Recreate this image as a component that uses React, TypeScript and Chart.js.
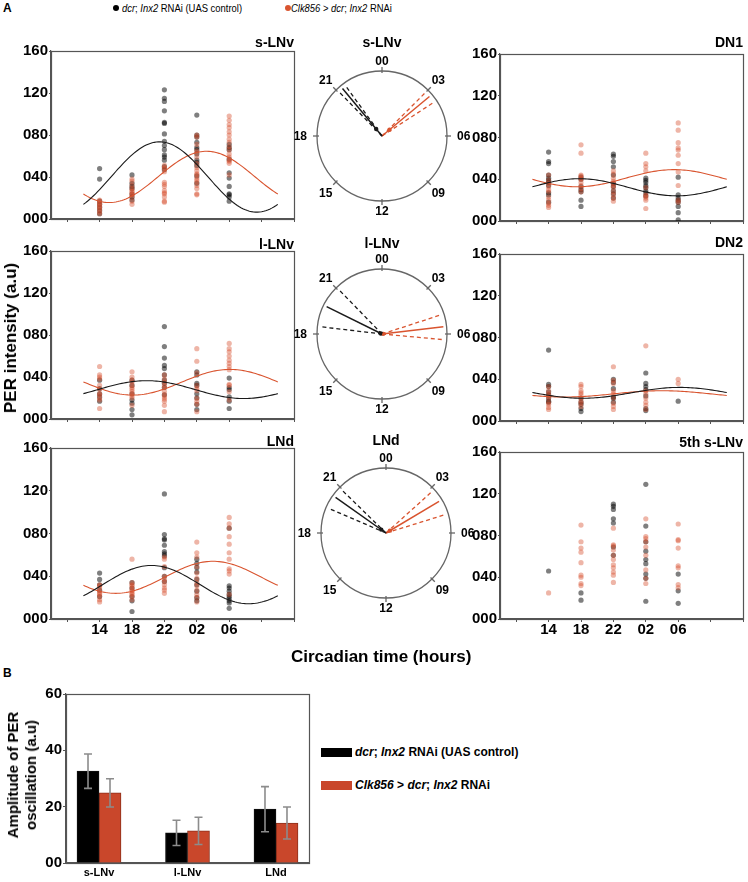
import React, { useEffect, useRef } from 'react';
import { Chart, registerables } from 'chart.js';
Chart.register(...registerables);

const FONT = '"Liberation Sans", Arial, Helvetica, sans-serif';
const BLACK_PT = 'rgba(0,0,0,0.5)';
const RED_PT = 'rgba(214,78,46,0.42)';
const BLACK_LINE = '#1a1a1a';
const RED_LINE = '#d9542f';
const FRAME = '#555';

// ---------- shared axes ----------
const timepoints = [14, 18, 22, 26, 30]; // CT14, 18, 22, 02(+24), 06(+24)
const timeTicks = [10, 14, 18, 22, 26, 30, 34, 38];
const timeTickLabels = ['', '14', '18', '22', '02', '06', '', ''];
const intensityTicks = [0, 40, 80, 120, 160];

// ---------- PER intensity per timepoint (14, 18, 22, 02, 06) ----------
const sLNvCtrl = [
  [48, 38, 17, 14, 11, 8, 5],
  [42, 34, 31, 29, 24, 21, 18],
  [123, 115, 112, 103, 92, 91, 81, 74, 70, 66, 61, 59, 56, 50, 47],
  [99, 80, 78, 73, 68, 66, 62, 56, 54, 51, 41, 34],
  [71, 68, 66, 57, 44, 39, 31, 24, 23, 21, 17],
];
const sLNvClk = [
  [18, 17, 15, 14, 12, 11, 9, 7, 5],
  [38, 36, 32, 29, 27, 26, 24, 23, 21, 17, 14],
  [51, 49, 48, 45, 35, 33, 31, 27, 25, 24, 21, 17, 16],
  [80, 78, 71, 65, 63, 59, 53, 49, 46, 43, 42, 39, 37, 35, 32, 29, 24, 23],
  [98, 94, 90, 87, 83, 80, 76, 73, 69, 66, 62, 59, 56, 55, 53, 42],
];
const dn1Ctrl = [
  [66, 57, 55, 44, 41, 39, 37, 34, 27, 25, 18],
  [42, 40, 33, 30, 28, 20, 14],
  [64, 62, 57, 52, 44, 36, 33, 29, 26, 22],
  [41, 39, 37, 34, 32, 29, 27, 24],
  [42, 25, 22, 20, 18, 14, 8, 1],
];
const dn1Clk = [
  [44, 39, 36, 33, 30, 28, 23, 20, 17, 15, 13],
  [73, 65, 44, 43, 41, 40, 37, 34, 31, 28],
  [48, 45, 41, 38, 36, 34, 32, 28, 25, 22, 19],
  [65, 55, 52, 48, 32, 25, 24, 22, 20, 12],
  [94, 87, 75, 70, 68, 63, 55, 47, 34, 20, 18],
];
const lLNvCtrl = [
  [37, 29, 24, 21, 17],
  [37, 32, 24, 18, 15, 9, 4],
  [88, 69, 58, 51, 48, 42, 37, 34, 30, 23],
  [45, 42, 34, 32, 24, 20, 14, 9],
  [39, 30, 28, 21, 17, 10],
];
const lLNvClk = [
  [50, 42, 40, 38, 32, 28, 24, 23, 20, 18, 10],
  [45, 40, 37, 35, 32, 30, 28, 26, 24, 22, 20, 13],
  [42, 38, 35, 32, 30, 26, 23, 21, 19, 17, 13, 7],
  [67, 55, 44, 32, 29, 27, 20, 17, 14, 7],
  [72, 67, 64, 60, 56, 53, 50, 47, 33, 32, 26, 18],
];
const dn2Ctrl = [
  [68, 35, 33, 28, 25, 22, 19, 18],
  [22, 18, 16, 12, 9],
  [40, 37, 31, 23, 22, 18],
  [46, 36, 33, 30, 24, 12, 10],
  [19],
];
const dn2Clk = [
  [33, 29, 26, 24, 22, 18, 16, 13, 11],
  [35, 33, 29, 27, 25, 22, 19, 17, 14],
  [52, 39, 36, 29, 26, 22, 17, 14, 11],
  [72, 29, 26, 22, 18, 15, 11],
  [40, 36],
];
const lndCtrl = [
  [43, 37, 32, 27, 21],
  [34, 29, 21, 17, 7],
  [117, 79, 75, 74, 69, 63, 61, 59, 48, 40, 35],
  [56, 52, 48, 44, 37, 32, 26, 20, 17],
  [85, 31, 29, 26, 23, 21, 19, 17, 15, 10],
];
const lndClk = [
  [32, 31, 29, 26, 24, 23, 21, 18, 16],
  [56, 34, 32, 31, 29, 27, 26, 24, 23, 21, 18],
  [58, 56, 49, 40, 37, 35, 32, 29, 27, 24],
  [72, 62, 58, 49, 43, 38, 34, 31, 27, 23, 20, 16],
  [95, 89, 85, 77, 70, 62, 56, 47, 45, 42, 23],
];
const fifthCtrl = [
  [46],
  [25, 18],
  [110, 108, 105, 96, 92, 69, 61],
  [129, 89, 74, 65, 57, 53, 43, 39, 17],
  [43, 27, 15],
];
const fifthClk = [
  [25],
  [90, 74, 68, 64, 54, 42, 40, 34, 32],
  [87, 71, 70, 66, 61, 57, 52, 49, 45, 42, 35],
  [96, 79, 77, 74, 69, 61, 47, 39, 34],
  [91, 76, 75, 68, 51, 49, 33, 30],
];

// ---------- cosinor fits: [mesor, amplitude, peak (CT hours)] ----------
const sLNvCtrlFit = [40, 33.5, 21.4];
const sLNvClkFit = [40.1, 24.4, 27.2];
const dn1CtrlFit = [32.3, 8.2, 17.8];
const dn1ClkFit = [41, 8.2, 29.5];
const lLNvCtrlFit = [28, 8.5, 19.8];
const lLNvClkFit = [35, 12.2, 30.1];
const dn2CtrlFit = [27, 5.2, 30.2];
const dn2ClkFit = [26, 3, 28];
const lndCtrlFit = [32.2, 17.9, 20.4];
const lndClkFit = [39, 15, 28];
const fitRange = [12, 36];

// ---------- phase clocks: [phase, lower CI, upper CI] in hours ----------
const clockHours = [0, 3, 6, 9, 12, 15, 18, 21];
const clockLabels = ['00', '03', '06', '09', '12', '15', '18', '21'];
const sLNvPhaseCtrl = [21.35, 21.05, 21.6];
const sLNvPhaseClk = [3.35, 3.0, 3.8];
const lLNvPhaseCtrl = [19.75, 18.45, 21.05];
const lLNvPhaseClk = [5.55, 4.8, 6.35];
const lndPhaseCtrl = [20.35, 19.55, 20.95];
const lndPhaseClk = [3.95, 3.2, 4.85];
const sLNvVector = [0.14, 0.15];
const lLNvVector = [0.02, 0.02];
const lndVector = [0.09, 0.07];

// ---------- panel B ----------
const barCategories = ['s-LNv', 'l-LNv', 'LNd'];
const ampCtrl = [32.6, 10.7, 19.1];
const ampCtrlErr = [6.1, 4.5, 8.0];
const ampClk = [24.9, 11.4, 14.2];
const ampClkErr = [5.0, 4.85, 5.7];
const ampTicks = [0, 20, 40, 60];

// ---------- helpers ----------
const toPoints = (groups: number[][]) =>
  groups.flatMap((vals, i) => vals.map((v) => ({ x: timepoints[i], y: v })));

const fitCurve = (fit: number[]) => {
  const [m, a, p] = fit;
  const pts: { x: number; y: number }[] = [];
  for (let h = fitRange[0]; h <= fitRange[1] + 1e-9; h += 0.25) {
    pts.push({ x: h, y: m + a * Math.cos(((h - p) / 24) * 2 * Math.PI) });
  }
  return pts;
};

const framePlugin = {
  id: 'frame',
  afterDraw(chart: any) {
    const { ctx, chartArea: a } = chart;
    ctx.save();
    ctx.strokeStyle = FRAME;
    ctx.lineWidth = 1.2;
    ctx.strokeRect(Math.round(a.left) + 0.5, Math.round(a.top) + 0.5, Math.round(a.right - a.left), Math.round(a.bottom - a.top));
    ctx.restore();
  },
};

function useChart(makeConfig: () => any) {
  const ref = useRef<HTMLCanvasElement | null>(null);
  useEffect(() => {
    if (!ref.current) return;
    const chart = new Chart(ref.current, makeConfig());
    return () => chart.destroy();
  }, []);
  return ref;
}

// ---------- scatter panel ----------
const columns: any = {
  L: { left: 0, width: 300, yw: 51, pr: 6 },
  R: { left: 460, width: 288, yw: 40, pr: 5 },
};

function ScatterPanel(props: any) {
  const { col, top, bottom, ctrl, clk, ctrlFit, clkFit, showX } = props;
  const c = columns[col];
  const pt = 14;
  const xh = showX ? 26 : 8;
  const canvasTop = top - pt;
  const height = bottom - canvasTop + xh;
  const ref = useChart(() => {
    const datasets: any[] = [];
    if (ctrlFit) {
      datasets.push({ data: fitCurve(ctrlFit), showLine: true, pointRadius: 0, borderColor: BLACK_LINE, borderWidth: 1.1, order: 0 });
    }
    if (clkFit) {
      datasets.push({ data: fitCurve(clkFit), showLine: true, pointRadius: 0, borderColor: RED_LINE, borderWidth: 1.1, order: 0 });
    }
    datasets.push({ data: toPoints(clk), backgroundColor: RED_PT, borderWidth: 0, pointRadius: 2.6, order: 1 });
    datasets.push({ data: toPoints(ctrl), backgroundColor: BLACK_PT, borderWidth: 0, pointRadius: 2.6, order: 2 });
    return {
      type: 'scatter',
      data: { datasets },
      options: {
        animation: false,
        responsive: false,
        events: [],
        layout: { padding: { left: 0, top: pt, right: c.pr, bottom: 0 } },
        plugins: { legend: { display: false }, tooltip: { enabled: false } },
        scales: {
          x: {
            type: 'linear',
            min: 8,
            max: 38,
            afterBuildTicks: (s: any) => { s.ticks = timeTicks.map((v) => ({ value: v })); },
            afterFit: (s: any) => { s.height = xh; },
            ticks: {
              display: !!showX,
              autoSkip: false,
              maxRotation: 0,
              padding: -1,
              color: '#000',
              font: { family: FONT, size: 15, weight: 'bold' },
              callback: (_v: any, i: number) => timeTickLabels[i],
            },
            grid: { drawOnChartArea: false, tickLength: 3, color: FRAME },
            border: { color: FRAME, width: 1.2 },
          },
          y: {
            min: 0,
            max: 160,
            afterBuildTicks: (s: any) => { s.ticks = intensityTicks.map((v) => ({ value: v })); },
            afterFit: (s: any) => { s.width = c.yw; },
            ticks: {
              padding: 1,
              color: '#000',
              font: { family: FONT, size: 15, weight: 'bold' },
              callback: (v: any) => String(v).padStart(3, '0'),
            },
            grid: { drawOnChartArea: false, tickLength: 2, color: FRAME },
            border: { color: FRAME, width: 1.2 },
          },
        },
      },
      plugins: [framePlugin],
    };
  });
  return (
    <canvas
      ref={ref}
      width={c.width}
      height={height}
      style={{ position: 'absolute', left: c.left, top: canvasTop, width: c.width, height }}
    />
  );
}

// ---------- phase clock ----------
const clockFacePlugin = {
  id: 'clockFace',
  beforeDatasetsDraw(chart: any) {
    const { ctx, scales } = chart;
    const x = scales.x, y = scales.y;
    const cx = x.getPixelForValue(0);
    const cy = y.getPixelForValue(0);
    const r = x.getPixelForValue(1) - cx;
    const ry = cy - y.getPixelForValue(1);
    ctx.save();
    ctx.strokeStyle = '#666';
    ctx.lineWidth = 1.3;
    ctx.beginPath();
    ctx.ellipse(cx, cy, r, ry, 0, 0, Math.PI * 2);
    ctx.stroke();
    ctx.font = `bold 12px ${FONT}`;
    ctx.fillStyle = '#000';
    ctx.textAlign = 'center';
    ctx.textBaseline = 'middle';
    clockHours.forEach((h, i) => {
      const a = (h / 24) * 2 * Math.PI;
      const sx = Math.sin(a), sy = -Math.cos(a);
      ctx.beginPath();
      ctx.moveTo(cx + sx * (r - 2), cy + sy * (ry - 2));
      ctx.lineTo(cx + sx * (r + 4), cy + sy * (ry + 4));
      ctx.stroke();
      const label = clockLabels[i];
      const tw = ctx.measureText(label).width;
      const d = 10 + Math.abs(sx) * (tw / 2);
      ctx.fillText(label, cx + sx * (r + d), cy + sy * (ry + d) + 1);
    });
    ctx.restore();
  },
};

const LINE_LEN = 0.95;
const rayData = (phase: number, len: number) => {
  const a = (phase / 24) * 2 * Math.PI;
  return [{ x: 0, y: 0 }, { x: len * Math.sin(a), y: len * Math.cos(a) }];
};

function PhaseClock(props: any) {
  const { cx, cy, ctrl, clk, vec } = props;
  const R = 65, m = 30;
  const size = 2 * (R + m);
  const ref = useChart(() => {
    const ray = (phase: number, color: string, dashed: boolean) => ({
      data: rayData(phase, LINE_LEN),
      showLine: true,
      pointRadius: 0,
      borderColor: color,
      borderWidth: dashed ? 1.3 : 1.5,
      borderDash: dashed ? [4, 3] : [],
    });
    const dot = (phase: number, len: number, color: string) => ({
      data: [rayData(phase, len)[1]],
      pointRadius: 2.2,
      backgroundColor: color,
      borderWidth: 0,
    });
    return {
      type: 'scatter',
      data: {
        datasets: [
          ray(ctrl[0], BLACK_LINE, false),
          ray(ctrl[1], BLACK_LINE, true),
          ray(ctrl[2], BLACK_LINE, true),
          ray(clk[0], RED_LINE, false),
          ray(clk[1], RED_LINE, true),
          ray(clk[2], RED_LINE, true),
          dot(ctrl[0], vec[0], BLACK_LINE),
          dot(clk[0], vec[1], RED_LINE),
        ],
      },
      options: {
        animation: false,
        responsive: false,
        events: [],
        layout: { padding: m },
        plugins: { legend: { display: false }, tooltip: { enabled: false } },
        scales: {
          x: { type: 'linear', min: -1, max: 1, display: false },
          y: { type: 'linear', min: -1, max: 1, display: false },
        },
      },
      plugins: [clockFacePlugin],
    };
  });
  return (
    <canvas
      ref={ref}
      width={size}
      height={size}
      style={{ position: 'absolute', left: cx - R - m, top: cy - R - m, width: size, height: size }}
    />
  );
}

// ---------- panel B bar chart ----------
const errorBarPlugin = {
  id: 'errorBars',
  afterDatasetsDraw(chart: any) {
    const { ctx } = chart;
    const errs = [ampCtrlErr, ampClkErr];
    const vals = [ampCtrl, ampClk];
    const y = chart.scales.y;
    ctx.save();
    ctx.strokeStyle = '#8c8c8c';
    ctx.lineWidth = 1.6;
    chart.data.datasets.forEach((_d: any, di: number) => {
      const meta = chart.getDatasetMeta(di);
      meta.data.forEach((bar: any, i: number) => {
        const hi = y.getPixelForValue(vals[di][i] + errs[di][i]);
        const lo = y.getPixelForValue(vals[di][i] - errs[di][i]);
        const x = bar.x;
        ctx.beginPath();
        ctx.moveTo(x, hi);
        ctx.lineTo(x, lo);
        ctx.moveTo(x - 4, hi);
        ctx.lineTo(x + 4, hi);
        ctx.moveTo(x - 4, lo);
        ctx.lineTo(x + 4, lo);
        ctx.stroke();
      });
    });
    ctx.restore();
  },
};

function AmplitudeChart() {
  const left = 0, top = 680, width = 320, height = 202;
  const ref = useChart(() => ({
    type: 'bar',
    data: {
      datasets: [
        {
          data: ampCtrl.map((v, i) => ({ x: i, y: v })),
          backgroundColor: '#000',
          borderColor: '#111',
          borderWidth: 1,
          barThickness: 22,
        },
        {
          data: ampClk.map((v, i) => ({ x: i, y: v })),
          backgroundColor: '#c9472b',
          borderColor: '#8d2f1b',
          borderWidth: 1,
          barThickness: 22,
        },
      ],
    },
    options: {
      animation: false,
      responsive: false,
      events: [],
      layout: { padding: { left: 0, top: 14, right: 11, bottom: 0 } },
      plugins: { legend: { display: false }, tooltip: { enabled: false } },
      scales: {
        x: {
          type: 'linear',
          offset: false,
          min: -0.373,
          max: 2.373,
          afterBuildTicks: (s: any) => { s.ticks = barCategories.map((_c, i) => ({ value: i })); },
          afterFit: (s: any) => { s.height = 19; },
          ticks: {
            autoSkip: false,
            maxRotation: 0,
            padding: 3,
            color: '#000',
            font: { family: FONT, size: 11, weight: 'bold' },
            callback: (_v: any, i: number) => barCategories[i],
          },
          grid: { offset: false, drawOnChartArea: false, drawTicks: false },
          border: { color: FRAME, width: 1.2 },
        },
        y: {
          min: 0,
          max: 60,
          afterBuildTicks: (s: any) => { s.ticks = ampTicks.map((v) => ({ value: v })); },
          afterFit: (s: any) => { s.width = 66; },
          ticks: {
            padding: 1,
            color: '#000',
            font: { family: FONT, size: 15, weight: 'bold' },
            callback: (v: any) => (v === 0 ? '00' : String(v)),
          },
          grid: { drawOnChartArea: false, tickLength: 3, color: FRAME },
          border: { color: FRAME, width: 1.2 },
        },
      },
    },
    plugins: [errorBarPlugin, framePlugin],
  }));
  return (
    <canvas
      ref={ref}
      width={width}
      height={height}
      style={{ position: 'absolute', left, top, width, height }}
    />
  );
}

// ---------- text helpers ----------
const abs = (extra: any) => ({ position: 'absolute', whiteSpace: 'nowrap', ...extra });

function RightTitle({ right, baseline, children }: any) {
  return (
    <div style={abs({ left: right - 120, width: 120, textAlign: 'right', top: baseline - 11.9, fontSize: 14, lineHeight: '14px', fontWeight: 'bold' })}>
      {children}
    </div>
  );
}
function CenterTitle({ cx, baseline, children }: any) {
  return (
    <div style={abs({ left: cx - 60, width: 120, textAlign: 'center', top: baseline - 11.9, fontSize: 14, lineHeight: '14px', fontWeight: 'bold' })}>
      {children}
    </div>
  );
}

export default function App() {
  return (
    <div
      style={{
        position: 'absolute',
        left: 0,
        top: 0,
        width: 748,
        height: 882,
        background: '#fff',
        fontFamily: FONT,
        color: '#000',
        overflow: 'hidden',
      }}
    >
      {/* Panel labels */}
      <div style={abs({ left: 3, top: 1, fontSize: 12, fontWeight: 'bold', lineHeight: '14px' })}>A</div>
      <div style={abs({ left: 3, top: 666, fontSize: 12, fontWeight: 'bold', lineHeight: '14px' })}>B</div>

      {/* Top legend */}
      <div style={abs({ left: 113, top: 5, width: 6, height: 6, borderRadius: '50%', background: '#000' })} />
      <div style={abs({ left: 122, top: 1, fontSize: 11.5, lineHeight: '14px', transform: 'scaleX(0.82)', transformOrigin: 'left center' })}>
        <i>dcr</i>; <i>Inx2</i> RNAi (UAS control)
      </div>
      <div style={abs({ left: 285, top: 5, width: 6, height: 6, borderRadius: '50%', background: RED_LINE })} />
      <div style={abs({ left: 291, top: 1, fontSize: 11.5, lineHeight: '14px', transform: 'scaleX(0.82)', transformOrigin: 'left center' })}>
        <i>Clk856</i> &gt; <i>dcr</i>; <i>Inx2</i> RNAi
      </div>

      {/* Panel A scatter plots */}
      <ScatterPanel col="L" top={51} bottom={221} ctrl={sLNvCtrl} clk={sLNvClk} ctrlFit={sLNvCtrlFit} clkFit={sLNvClkFit} />
      <ScatterPanel col="L" top={251} bottom={421} ctrl={lLNvCtrl} clk={lLNvClk} ctrlFit={lLNvCtrlFit} clkFit={lLNvClkFit} />
      <ScatterPanel col="L" top={448} bottom={619} ctrl={lndCtrl} clk={lndClk} ctrlFit={lndCtrlFit} clkFit={lndClkFit} showX />
      <ScatterPanel col="R" top={54} bottom={223} ctrl={dn1Ctrl} clk={dn1Clk} ctrlFit={dn1CtrlFit} clkFit={dn1ClkFit} />
      <ScatterPanel col="R" top={254} bottom={423} ctrl={dn2Ctrl} clk={dn2Clk} ctrlFit={dn2CtrlFit} clkFit={dn2ClkFit} />
      <ScatterPanel col="R" top={452} bottom={619} ctrl={fifthCtrl} clk={fifthClk} showX />

      <RightTitle right={294} baseline={47}>s-LNv</RightTitle>
      <RightTitle right={294} baseline={249}>l-LNv</RightTitle>
      <RightTitle right={294} baseline={446}>LNd</RightTitle>
      <RightTitle right={743} baseline={47}>DN1</RightTitle>
      <RightTitle right={743} baseline={247}>DN2</RightTitle>
      <RightTitle right={743} baseline={447}>5th s-LNv</RightTitle>

      {/* Phase clocks */}
      <PhaseClock cx={382} cy={136} ctrl={sLNvPhaseCtrl} clk={sLNvPhaseClk} vec={sLNvVector} />
      <PhaseClock cx={382} cy={334} ctrl={lLNvPhaseCtrl} clk={lLNvPhaseClk} vec={lLNvVector} />
      <PhaseClock cx={386} cy={533} ctrl={lndPhaseCtrl} clk={lndPhaseClk} vec={lndVector} />
      <CenterTitle cx={382} baseline={47}>s-LNv</CenterTitle>
      <CenterTitle cx={382} baseline={248}>l-LNv</CenterTitle>
      <CenterTitle cx={386} baseline={445}>LNd</CenterTitle>

      {/* Axis titles panel A */}
      <div style={abs({ left: 11, top: 338, fontSize: 17, fontWeight: 'bold', lineHeight: '20px', transform: 'translate(-50%, -50%) rotate(-90deg)' })}>
        PER intensity (a.u)
      </div>
      <div style={abs({ left: 291, top: 647, fontSize: 17, fontWeight: 'bold', lineHeight: '20px' })}>
        Circadian time (hours)
      </div>

      {/* Panel B */}
      <AmplitudeChart />
      <div style={abs({ left: 22, top: 775, fontSize: 15, fontWeight: 'bold', lineHeight: '18px', textAlign: 'center', transform: 'translate(-50%, -50%) rotate(-90deg)' })}>
        Amplitude of PER
        <br />
        oscillation (a.u)
      </div>
      <div style={abs({ left: 321, top: 748, width: 31, height: 9, background: '#000' })} />
      <div style={abs({ left: 355, top: 745, fontSize: 12, fontWeight: 'bold', lineHeight: '14px' })}>
        <i>dcr</i>; <i>Inx2</i> RNAi (UAS control)
      </div>
      <div style={abs({ left: 321, top: 781, width: 31, height: 9, background: '#c9472b' })} />
      <div style={abs({ left: 355, top: 778, fontSize: 12, fontWeight: 'bold', lineHeight: '14px' })}>
        <i>Clk856</i> &gt; <i>dcr</i>; <i>Inx2</i> RNAi
      </div>
    </div>
  );
}
